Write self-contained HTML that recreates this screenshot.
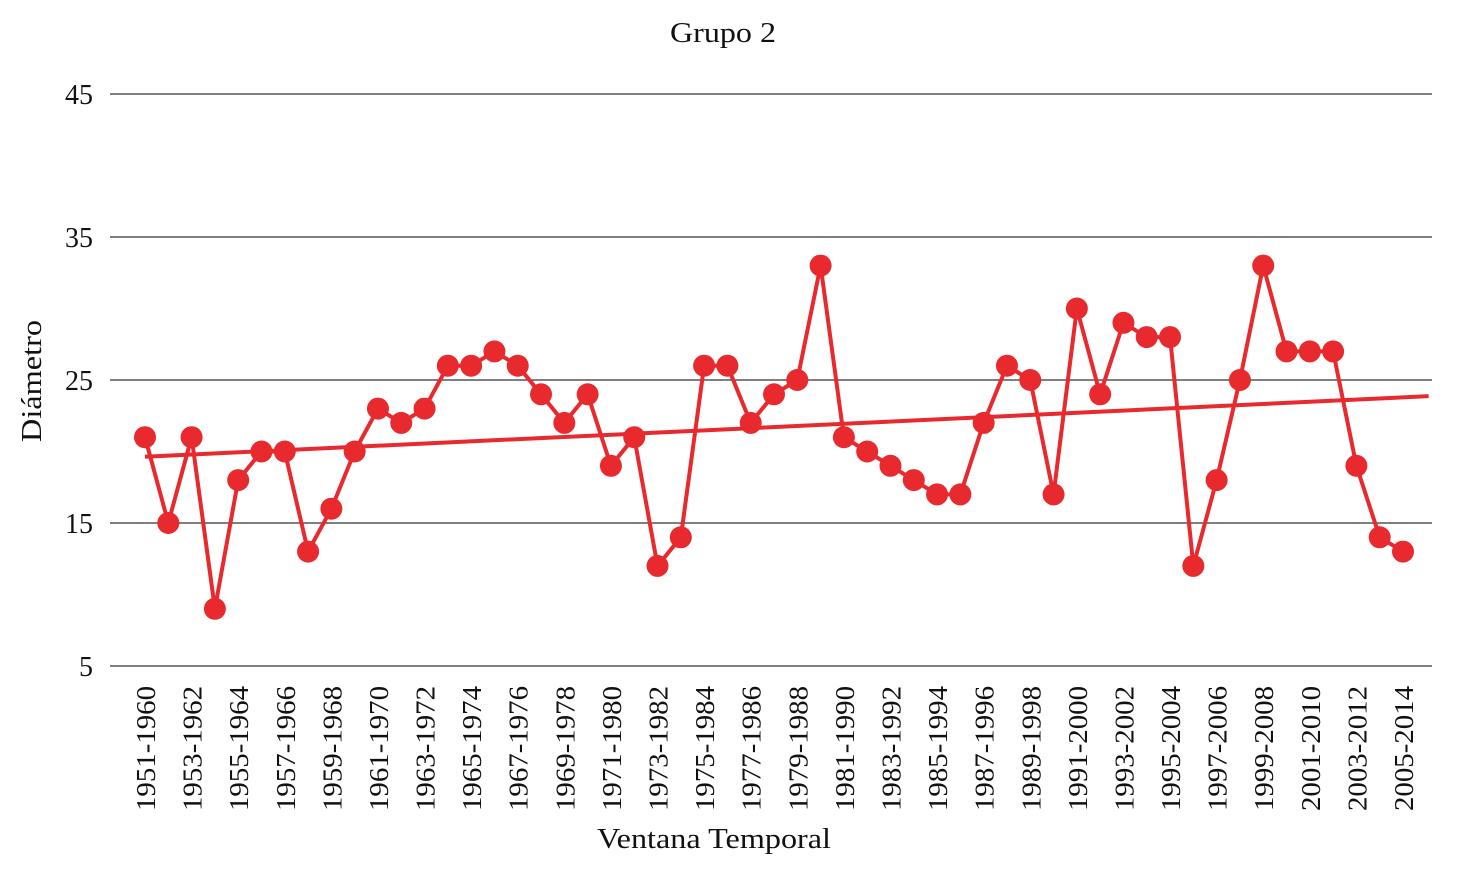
<!DOCTYPE html>
<html><head><meta charset="utf-8"><style>
html,body{margin:0;padding:0;background:#fff;width:1482px;height:892px;overflow:hidden}
svg{display:block;font-family:"Liberation Serif",serif}
</style></head><body>
<svg id="chart" width="1482" height="892" viewBox="0 0 1482 892">
<text x="723" y="42" font-size="28" text-anchor="middle" textLength="106" lengthAdjust="spacingAndGlyphs" fill="#111">Grupo 2</text>
<text transform="translate(41,381) rotate(-90)" font-size="28" text-anchor="middle" textLength="122" lengthAdjust="spacingAndGlyphs" fill="#111">Diámetro</text>
<text x="714" y="848" font-size="28" text-anchor="middle" textLength="234" lengthAdjust="spacingAndGlyphs" fill="#111">Ventana Temporal</text>
<g id="grid"></g>
<g id="xlabels"></g>
<g id="series"></g>
</svg>
<script>
const startYears = [];
for (let y = 1951; y <= 2005; y++) startYears.push(y);
const categories = startYears.map(y => y + '-' + (y + 9));
const values = [21,15,21,9,18,20,20,13,16,20,23,22,23,26,26,27,26,24,22,24,19,21,12,14,26,26,22,24,25,33,21,20,19,18,17,17,22,26,25,17,30,24,29,28,28,12,18,25,33,27,27,27,19,14,13];
const yTicks = [5,15,25,35,45];

const NS = 'http://www.w3.org/2000/svg';
const x0 = 145, x1 = 1403, yTop = 94, yBot = 666, yMin = 5, yMax = 45;
const step = (x1 - x0) / (categories.length - 1);
const xs = i => x0 + i * step;
const ys = v => yBot - (v - yMin) / (yMax - yMin) * (yBot - yTop);
function mk(tag, attrs, parent) { const e = document.createElementNS(NS, tag); for (const k in attrs) e.setAttribute(k, attrs[k]); parent.appendChild(e); return e; }

const grid = document.getElementById('grid');
yTicks.forEach(t => {
  const l = mk('line', {x1: 110, x2: 1432, y1: ys(t), y2: ys(t), stroke: '#333', 'stroke-width': 1.2}, grid);
  
  
  const tx = mk('text', {x: 93, y: ys(t) + 10, 'font-size': 28, 'text-anchor': 'end', fill: '#111'}, grid);
  tx.textContent = t;
  
  
});

const xl = document.getElementById('xlabels');
categories.forEach((c, i) => {
  if (i % 2) return;
  const tx = mk('text', {transform: `translate(${xs(i) + 10},686) rotate(-90)`, 'font-size': 27, 'text-anchor': 'end', textLength: 125, lengthAdjust: 'spacingAndGlyphs', fill: '#111'}, xl);
  tx.textContent = c;
  
  
});

const s = document.getElementById('series');
const color = '#e8292e';
const pl = mk('polyline', {points: values.map((v, i) => xs(i) + ',' + ys(v)).join(' '), fill: 'none', stroke: color, 'stroke-width': 4, 'stroke-linejoin': 'round'}, s);



const n = values.length;
let sx = 0, sy = 0, sxx = 0, sxy = 0;
values.forEach((v, i) => { sx += i; sy += v; sxx += i * i; sxy += i * v; });
const slope = (n * sxy - sx * sy) / (n * sxx - sx * sx);
const icpt = (sy - slope * sx) / n;
const tEnd = n - 1 + 1.1;
const tl = mk('line', {x1: xs(0), y1: ys(icpt), x2: xs(tEnd), y2: ys(icpt + slope * tEnd), stroke: color, 'stroke-width': 4}, s);



values.forEach((v, i) => {
  const c = mk('circle', {cx: xs(i), cy: ys(v), r: 11, fill: color}, s);
  
  
});
</script>
</body></html>
